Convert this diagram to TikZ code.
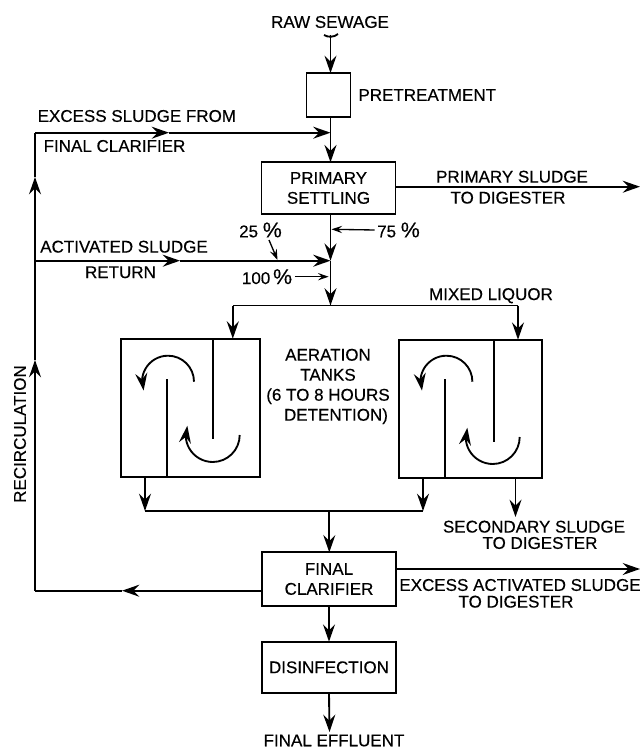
\documentclass[tikz,border=0pt]{standalone}
\usepackage{fontspec}
\setmainfont[FakeBold=0.35]{Liberation Sans}
\usetikzlibrary{arrows.meta, bending, positioning, calc}
\newcommand{\bigpct}{{\fontsize{16}{15}\selectfont\%}}

\begin{document}
\begin{tikzpicture}[
    x=0.75pt, y=-0.75pt,
    line width=1.4pt,
    every node/.style={font=\fontsize{12.75}{15}\selectfont, inner sep=2pt, outer sep=0pt},
    box/.style={rectangle, draw, align=center, minimum width=100.5pt},
    tank/.style={rectangle, draw, minimum height=104pt},
    flow/.style={-{Stealth[length=13pt, width=9pt, inset=4.5pt]}},
    pointer/.style={line width=1pt, -{Stealth[length=8pt, width=5.5pt, inset=3pt]}}
]
\useasboundingbox (0,0) rectangle (640,749);

% Boxes
\node[box, minimum width=33pt, minimum height=33pt] (pretreat) at (328.5,95) {};
\node[box, minimum height=38.5pt, below=34pt of pretreat] (primary) {PRIMARY\\SETTLING};
\node[box, minimum height=40pt] (clarifier) at (329,579) {FINAL\\CLARIFIER};
\node[box, minimum height=38.5pt, below=27pt of clarifier] (disinfect) {DISINFECTION};
\node[tank, minimum width=104pt] (tankA) at (190.7,408) {};
\node[tank, minimum width=107pt] (tankB) at (470.5,409) {};

% Labels
\node (raw) at (330,22) {RAW SEWAGE};
\node[right=4pt of pretreat] (pretreatlabel) {PRETREATMENT};
\node[anchor=west] (excessA) at (35,116) {EXCESS SLUDGE FROM};
\node[anchor=west] (excessB) at (41,146) {FINAL CLARIFIER};
\node (primaryA) at (512,176.7) {PRIMARY SLUDGE};
\node (primaryB) at (508,197.7) {TO DIGESTER};
\node (pct25) at (260.5,230) {25 \bigpct};
\node (pct75) at (398.5,230) {75 \bigpct};
\node (pct100) at (267,276.7) {100\,\bigpct};
\node (activatedA) at (124,246.7) {ACTIVATED SLUDGE};
\node (activatedB) at (120.5,272.3) {RETURN};
\node (mixed) at (491,295.7) {MIXED LIQUOR};
\node[align=center] (aeration) at (328,386.5) {AERATION\\TANKS\\(6 TO 8 HOURS\\\hspace*{12pt}DETENTION)};
\node (secondaryA) at (534,526.7) {SECONDARY SLUDGE};
\node (secondaryB) at (540,543) {TO DIGESTER};
\node (excessC) at (520,585) {EXCESS ACTIVATED SLUDGE};
\node (excessD) at (516,601.7) {TO DIGESTER};
\node (effluent) at (334,740.5) {FINAL EFFLUENT};
\node[rotate=90] (recirc) at (20,434) {RECIRCULATION};

% Junctions
\coordinate (rawin) at (330.5,35);
\coordinate (excessjoin) at (330.5,132.7);
\coordinate (returnjoin) at (330.5,260.7);
\coordinate (mixedjoin) at (330.5,305.5);
\coordinate (mixedA) at (232.8,305.5);
\coordinate (mixedB) at (518,305.5);
\coordinate (cornerA) at (35,132.7);
\coordinate (cornerB) at (35,590.7);
\coordinate (returnleft) at (35,260.7);
\coordinate (primaryout) at (640,186.7);
\coordinate (excessout) at (640,569);
\coordinate (collectA) at (145,511);
\coordinate (collectB) at (423,511);
\coordinate (collectM) at (329.3,511);
\coordinate (secondaryout) at (515.5,517);
\coordinate (effluentin) at (329.5,732);

% Main line
\draw (324,35) .. controls (328,37.5) and (334,37.5) .. (338,34);
\draw[flow] (rawin) -- (rawin |- pretreat.north);
\draw (pretreat.south -| excessjoin) -- (excessjoin);
\draw[flow] (excessjoin) -- (excessjoin |- primary.north);
\draw[flow] (primary.south -| returnjoin) -- (returnjoin);
\draw[flow] (returnjoin) -- (mixedjoin);
\draw (mixedA) -- (mixedB);
\draw[flow] (mixedA) -- (mixedA |- tankA.north);
\draw[flow] (mixedB) -- (mixedB |- tankB.north);

% Recirculation
\draw[flow] (clarifier.west |- cornerB) -- (122,590.7);
\draw (122,590.7) -- (cornerB);
\draw[flow] (cornerB) -- (35,360);
\draw[flow] (35,360) -- (35,177);
\draw (35,177) -- (cornerA);
\draw[flow] (cornerA) -- (169,132.7);
\draw[flow] (169,132.7) -- (excessjoin);
\draw[flow] (returnleft) -- (180,260.7);
\draw[flow] (180,260.7) -- (returnjoin);

% Outlets
\draw[flow] (primary.east |- primaryout) -- (primaryout);
\draw[flow] (clarifier.east |- excessout) -- (excessout);
\draw[flow] (tankA.south -| collectA) -- (collectA);
\draw[flow] (tankB.south -| collectB) -- (collectB);
\draw (collectA) -- (collectB);
\draw[flow] (collectM) -- (collectM |- clarifier.north);
\draw[flow] (tankB.south -| secondaryout) -- (secondaryout);
\draw[flow] (clarifier.south) -- (disinfect.north);
\draw[flow] (disinfect.south) -- (effluentin);

% Percent pointers
\draw[pointer] (pct75.west) -- (331.5,229.3);
\draw[pointer] (pct100.east) -- (328.6,276.7);
\draw[pointer] (269,240) -- (277.5,260);

% Baffles
\draw (213,338.3) -- (213,439);
\draw (167,379) -- (167,477);
\draw (493.8,340) -- (493.8,441.7);
\draw (444.8,379) -- (444.8,478);

% Circulation
\draw[flow] (194,381.7) arc[start angle=0, end angle=-200, radius=26];
\draw[flow] (239.7,435) arc[start angle=0, end angle=200, radius=27];
\draw[flow] (472.4,381.7) arc[start angle=0, end angle=-200, radius=26];
\draw[flow] (519.7,437) arc[start angle=0, end angle=200, radius=27];

\end{tikzpicture}
\end{document}
